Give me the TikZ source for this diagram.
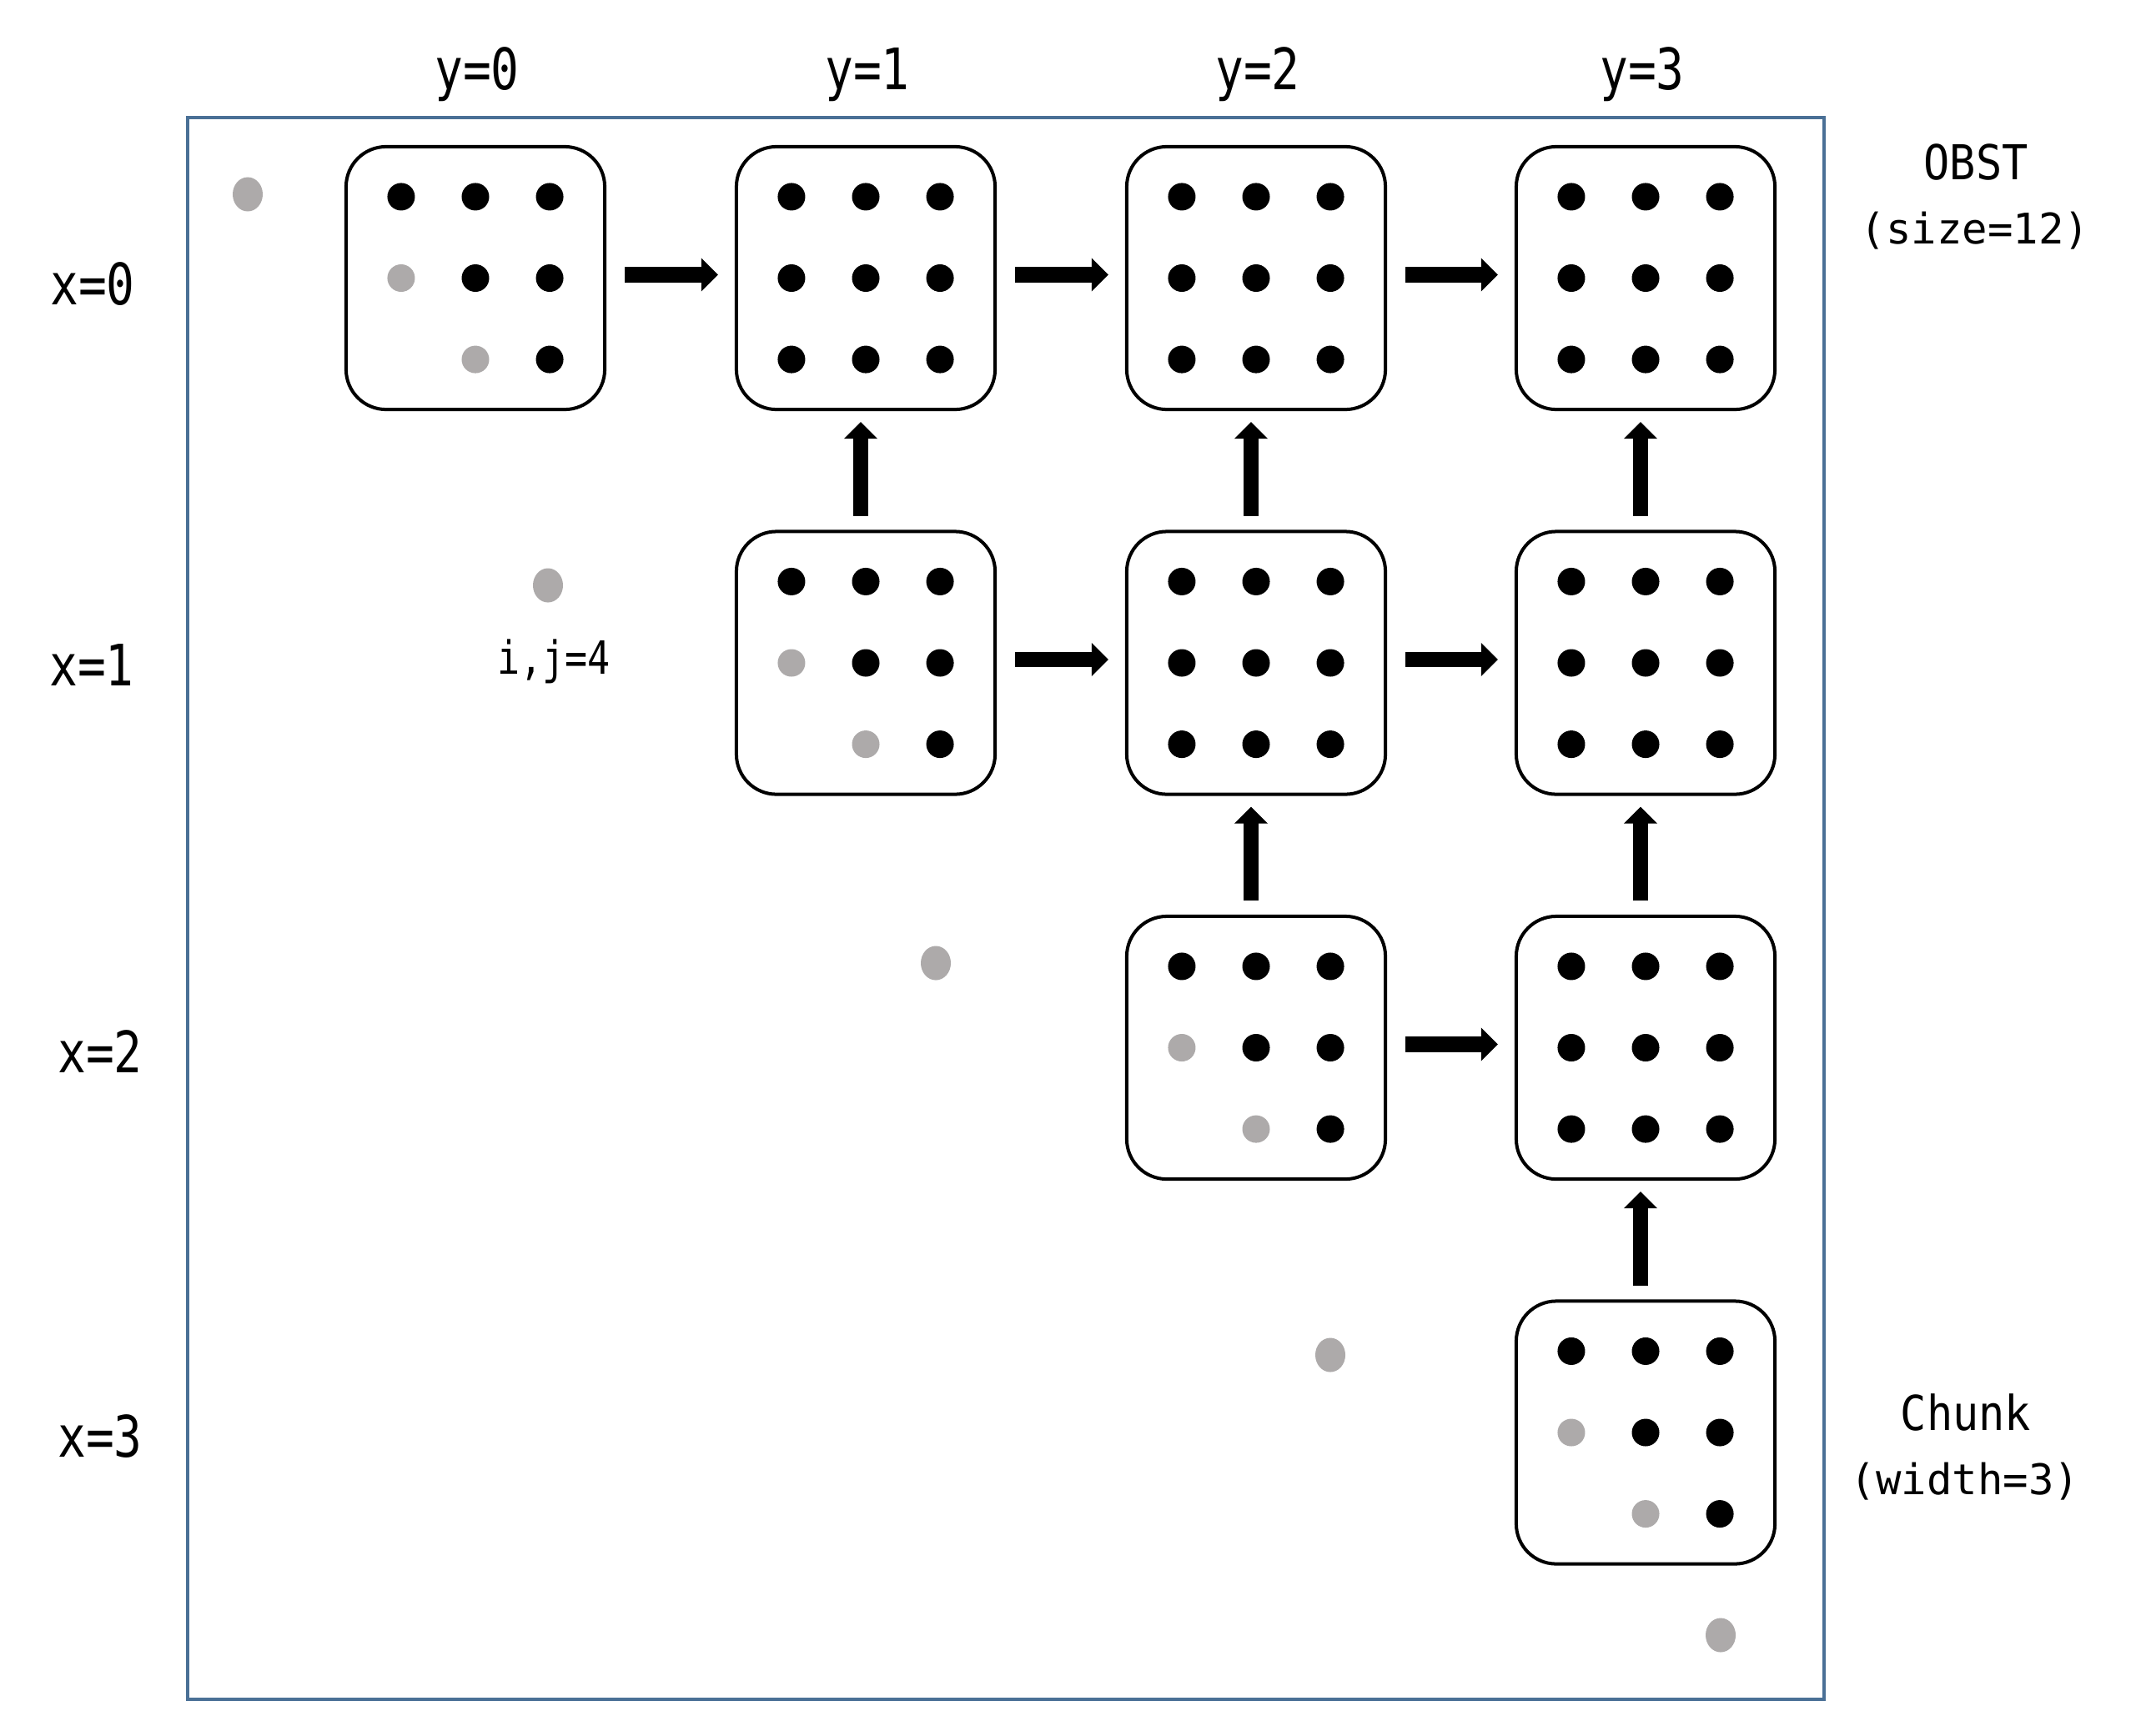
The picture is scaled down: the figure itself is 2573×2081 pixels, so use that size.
\documentclass[tikz,border=0pt]{standalone}
\usepackage{fontspec}
\newfontfamily\monofont{DejaVu Sans Mono}
\newfontfamily\narrowfont[FakeStretch=0.82]{DejaVu Sans Mono}
\newfontfamily\titlefont[FakeStretch=0.9]{DejaVu Sans Mono}
\usetikzlibrary{arrows.meta}
\definecolor{dotgray}{RGB}{173,170,170}
\definecolor{frameblue}{RGB}{74,112,150}
\begin{document}
\begin{tikzpicture}[x=0.01cm,y=-0.01cm,
  chunkbox/.style={draw=black, line width=1.14pt, rounded corners=0.48cm,
    minimum width=3.1cm, minimum height=3.15cm, inner sep=0pt},
  blockarrow/.style={line width=5.2pt, -{Triangle[length=5.7pt,width=11.1pt]}},
  harrow/.style={blockarrow, shorten <=6.3pt, shorten >=5.7pt},
  varrow/.style={blockarrow, shorten <=4.8pt, shorten >=3.7pt},
  axislab/.style={font=\narrowfont\fontsize{19.5}{22}\selectfont, anchor=base, inner sep=0pt},
  sidelab/.style={font=\monofont\fontsize{14.4}{17}\selectfont, anchor=base, inner sep=0pt},
  sidetitle/.style={font=\titlefont\fontsize{16.4}{19}\selectfont, anchor=base, inner sep=0pt},
  smalllab/.style={font=\narrowfont\fontsize{15.6}{18}\selectfont, anchor=base, inner sep=0pt},
  bdot/.style={fill=black},
  gdot/.style={fill=dotgray}]
\useasboundingbox (0,0) rectangle (2573,2081);
\fill[white] (0,0) rectangle (2573,2081);

% frame
\draw[frameblue, line width=1.14pt] (225,141) rectangle (2187,2038);

% boxes
\node[chunkbox] (b00) at (570,333.5) {};
\node[chunkbox] (b01) at (1038,333.5) {};
\node[chunkbox] (b02) at (1506,333.5) {};
\node[chunkbox] (b03) at (1973,333.5) {};
\node[chunkbox] (b11) at (1038,795) {};
\node[chunkbox] (b12) at (1506,795) {};
\node[chunkbox] (b13) at (1973,795) {};
\node[chunkbox] (b22) at (1506,1256.5) {};
\node[chunkbox] (b23) at (1973,1256.5) {};
\node[chunkbox] (b33) at (1973,1718) {};

% full dot grids
\foreach \b in {b01,b02,b03,b12,b13,b23}{
  \foreach \dx in {-0.89,0,0.89}{
    \foreach \dy in {0.975,0,-0.975}{
      \fill[bdot] ([xshift=\dx cm, yshift=\dy cm]\b.center) circle[radius=0.165cm];
    }
  }
}
% diagonal chunks
\foreach \b in {b00,b11,b22,b33}{
  \foreach \dx/\dy in {-0.89/0.975,0/0.975,0.89/0.975,0/0,0.89/0,0.89/-0.975}{
    \fill[bdot] ([xshift=\dx cm, yshift=\dy cm]\b.center) circle[radius=0.165cm];
  }
  \foreach \dx/\dy in {-0.89/0,0/-0.975}{
    \fill[gdot] ([xshift=\dx cm, yshift=\dy cm]\b.center) circle[radius=0.165cm];
  }
}

% outer diagonal dots
\foreach \px/\py in {297/233,657/702,1122/1155,1595/1625,2063/1961}{
  \fill[gdot] (\px,\py) ellipse[x radius=0.18cm, y radius=0.205cm];
}

% horizontal arrows
\foreach \a/\b in {b00/b01,b01/b02,b02/b03,b11/b12,b12/b13,b22/b23}{
  \draw[harrow] ([yshift=0.04cm]\a.east) -- ([yshift=0.04cm]\b.west);
}
% vertical arrows
\foreach \a/\b in {b11/b01,b12/b02,b13/b03,b22/b12,b23/b13,b33/b23}{
  \draw[varrow] ([xshift=-0.06cm]\a.north) -- ([xshift=-0.06cm]\b.south);
}

% axis labels
\node[axislab] (ly0) at (572,107) {y=0};
\node[axislab] (ly1) at (1040,107) {y=1};
\node[axislab] (ly2) at (1508,107) {y=2};
\node[axislab] (ly3) at (1969,107) {y=3};
\node[axislab] (lx0) at (111,365) {x=0};
\node[axislab] (lx1) at (110,822) {x=1};
\node[axislab] (lx2) at (120,1286) {x=2};
\node[axislab] (lx3) at (120,1747) {x=3};

\node[smalllab] (lij) at (664,808) {i,j=4};

\node[sidetitle] (lobst) at (2369,215) {OBST};
\node[sidelab] (lsize) at (2368,292) {(size=12)};
\node[sidetitle] (lchunk) at (2357,1715) {Chunk};
\node[sidelab] (lwidth) at (2356,1792) {(width=3)};
\end{tikzpicture}
\end{document}
